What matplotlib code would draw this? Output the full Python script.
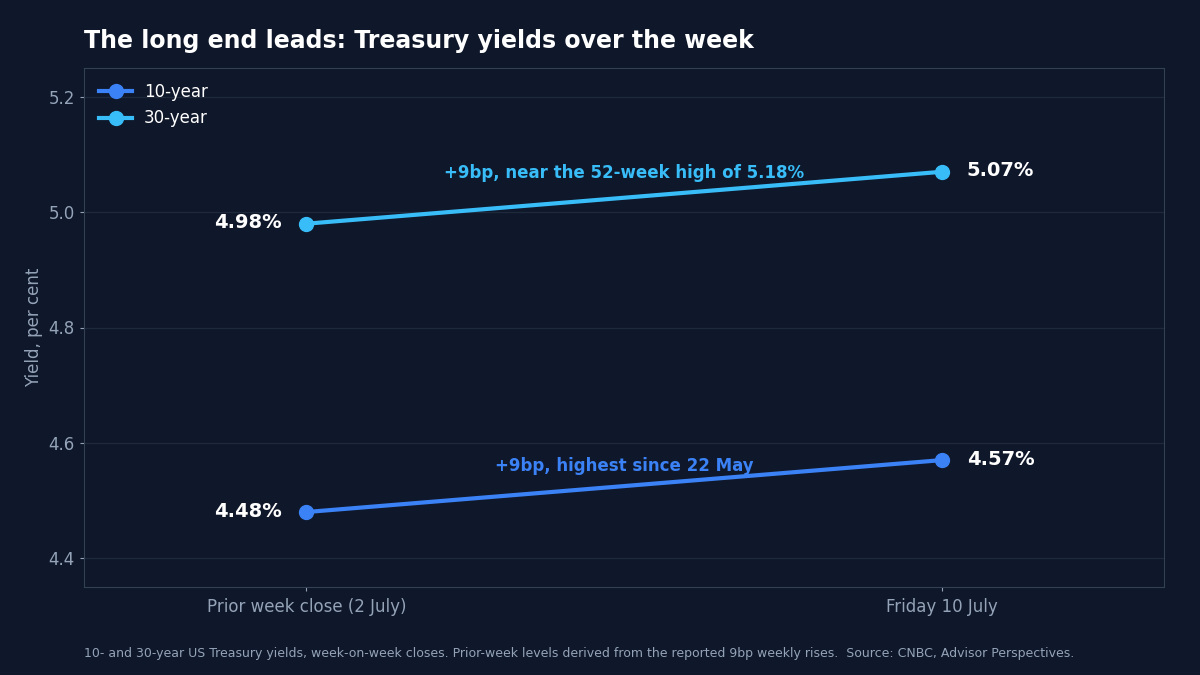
import matplotlib
matplotlib.use("Agg")
import matplotlib.pyplot as plt

categories = ["Prior week close (2 July)", "Friday 10 July"]
ten_year = [4.48, 4.57]
thirty_year = [4.98, 5.07]
series_names = ["10-year", "30-year"]
notes = ["+9bp, highest since 22 May", "+9bp, near the 52-week high of 5.18%"]
note_y = [4.559, 5.068]

BG = "#0f172a"
C10 = "#3b82f6"
C30 = "#38bdf8"
MUTED = "#94a3b8"
GRID = "#1e293b"
SPINE = "#334155"

fig = plt.figure(figsize=(12, 6.75), dpi=100, facecolor=BG)
ax = fig.add_axes([84/1200, 1-587/675, (1164-84)/1200, (587-68)/675])
ax.set_facecolor(BG)

x = list(range(len(categories)))
ax.plot(x, ten_year, color=C10, lw=3, marker="o", ms=10, label=series_names[0], zorder=3)
ax.plot(x, thirty_year, color=C30, lw=3, marker="o", ms=10, label=series_names[1], zorder=3)

ax.set_xlim(-0.35, 1.35)
ax.set_ylim(4.35, 5.25)
ax.set_xticks(x)
ax.set_xticklabels(categories)
ax.set_yticks([4.4, 4.6, 4.8, 5.0, 5.2])
ax.tick_params(colors=MUTED, labelsize=12, length=3, color=MUTED)
for t in ax.get_xticklabels() + ax.get_yticklabels():
    t.set_color(MUTED)
ax.tick_params(axis="x", pad=5)
ax.grid(axis="y", color=GRID, lw=1)
ax.set_axisbelow(True)
for s in ax.spines.values():
    s.set_color(SPINE)
ax.set_ylabel("Yield, per cent", color=MUTED, fontsize=12)

for series in (ten_year, thirty_year):
    ax.annotate(f"{series[0]:.2f}%", (x[0], series[0]), xytext=(-25, 1), textcoords="offset pixels",
                ha="right", va="center", color="white", fontsize=14, fontweight="bold")
    ax.annotate(f"{series[1]:.2f}%", (x[1], series[1]), xytext=(25, 1), textcoords="offset pixels",
                ha="left", va="center", color="white", fontsize=14, fontweight="bold")

ax.text(0.5, note_y[0], notes[0], color=C10, fontsize=12, fontweight="bold", ha="center", va="center")
ax.text(0.5, note_y[1], notes[1], color=C30, fontsize=12, fontweight="bold", ha="center", va="center")

leg = ax.legend(loc="upper left", frameon=False, fontsize=12, handlelength=2.0, handletextpad=0.7)
for t in leg.get_texts():
    t.set_color("white")

fig.text(84/1200, 1-41/675, "The long end leads: Treasury yields over the week",
         color="white", fontsize=17, fontweight="bold", ha="left", va="center")
fig.text(84/1200, 1-654/675,
         "10- and 30-year US Treasury yields, week-on-week closes. Prior-week levels derived from the reported 9bp weekly rises.  Source: CNBC, Advisor Perspectives.",
         color=MUTED, fontsize=9, ha="left", va="center")

fig.savefig("out.png", dpi=100, facecolor=BG)
